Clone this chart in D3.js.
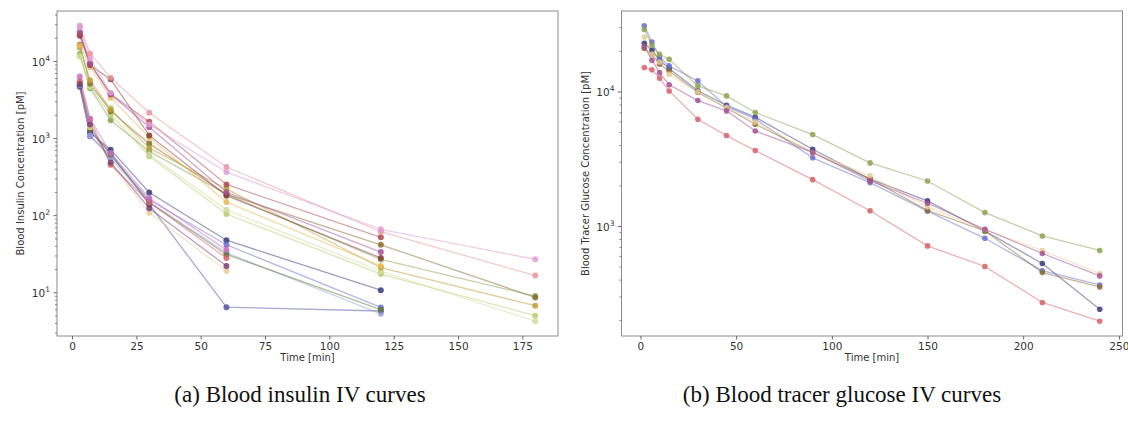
<!DOCTYPE html>
<html><head><meta charset="utf-8">
<script src="https://cdn.jsdelivr.net/npm/d3@7"></script>
<style>
body{margin:0;background:#fff;}
svg{display:block;}
</style></head>
<body>
<svg id="chart" width="1128" height="421"></svg>
<script>
// tab20b palette
const palette = ["#393b79","#5254a3","#6b6ecf","#9c9ede","#637939","#8ca252","#b5cf6b","#cedb9c",
  "#8c6d31","#bd9e39","#e7ba52","#e7cb94","#843c39","#ad494a","#d6616b","#e7969c",
  "#7b4173","#a55194","#ce6dbd","#de9ed6"];

// ---- (a) Blood insulin ----
const insulinTimes = [3, 7, 15, 30, 60, 120, 180];
const insulinSeries = [
  [4720, 1190, 719, 200, 48, 10.8, null],      // 0
  [4900, 1250, 650, 140, 6.5, 5.8, null],      // 1
  [4800, 1070, 600, 160, 41.9, 6.45, null],    // 2
  [5000, 1100, 560, 150, 33, 5.33, null],      // 3
  [5200, 1310, 620, 148, 31.4, 6.02, null],    // 4
  [12500, 4490, 1730, 683, 190, 27, 9.06],     // 5
  [12000, 4600, 2060, 588, 105, 17.5, 5.03],   // 6
  [11600, 4800, 2510, 620, 119, 19, 4.27],     // 7
  [16500, 5160, 2270, 861, 190, 41.9, 8.7],    // 8
  [15200, 5700, 2390, 757, 223, 21.2, 6.79],   // 9
  [16000, 8510, 3400, 1040, 150, 22.3, null],  // 10
  [5500, 1400, 470, 109, 19.2, null, null],    // 11
  [21600, 9000, 5870, 1100, 182, 28.3, null],  // 12
  [23000, 9400, 3750, 1650, 254, 52.3, null],  // 13
  [5580, 1770, 458, 148, 28.3, null, null],    // 14
  [29100, 12700, 6180, 2160, 428, 61.9, 16.7], // 15
  [5060, 1520, 491, 125, 22.3, null, null],    // 16
  [24300, 9420, 3750, 1400, 202, 33.7, null],  // 17
  [6370, 1810, 651, 169, 36, null, null],      // 18
  [27700, 10900, 3940, 1520, 368, 66.5, 27.2]  // 19
];
const insulinColors = palette;

// ---- (b) Blood tracer glucose ----
const glucoseTimes = [2, 6, 10, 15, 30, 45, 60, 90, 120, 150, 180, 210, 240];
const glucoseSeries = [
  [23000, 20500, 17200, 14900, 10200, 7960, 6490, 3750, 2250, 1550, 927, 531, 243],  // navy
  [31000, 23500, 18000, 15600, 12070, 7800, 6300, 3240, 2120, 1300, 818, 470, 368],  // blue
  [29100, 22300, 19060, 17500, 11080, 9340, 7030, 4820, 2970, 2180, 1270, 851, 664], // green
  [21000, 19000, 16060, 14300, 9900, 7600, 5750, 3550, 2250, 1320, 927, 455, 356],   // brown
  [25600, 19060, 16700, 13500, 10000, 7660, 5990, 3550, 2380, 1400, 950, 664, 448],  // tan
  [15200, 14600, 12640, 10170, 6270, 4740, 3670, 2230, 1310, 718, 505, 273, 198],    // red
  [21700, 17200, 13900, 11300, 8630, 7230, 5130, 3550, 2180, 1490, 955, 631, 430]    // purple
];
const glucoseColors = ["#393b79","#6b6ecf","#8ca252","#8c6d31","#e7cb94","#d6616b","#a55194"];

const xTicksA = [0, 25, 50, 75, 100, 125, 150, 175];
const xTicksB = [0, 50, 100, 150, 200, 250];

const svg = d3.select("#chart");
const FONT = "DejaVu Sans, sans-serif";

function panel(opts) {
  const {left, right, top, bottom, times, series, colors, xTicks, yLabel, caption, capX, r} = opts;
  const tmin = d3.min(times), tmax = d3.max(times);
  const tpad = (tmax - tmin) * 0.05;
  const x = d3.scaleLinear().domain([tmin - tpad, tmax + tpad]).range([left, right]);
  const vals = series.flat().filter(v => v != null);
  const lmin = Math.log10(d3.min(vals)), lmax = Math.log10(d3.max(vals));
  const lpad = (lmax - lmin) * 0.05;
  const y = d3.scaleLog().domain([Math.pow(10, lmin - lpad), Math.pow(10, lmax + lpad)]).range([bottom, top]);

  const g = svg.append("g");
  // lines
  const line = d3.line().defined(d => d[1] != null).x(d => x(d[0])).y(d => y(d[1]));
  series.forEach((s, i) => {
    const pts = times.map((t, j) => [t, s[j]]);
    g.append("path").attr("d", line(pts)).attr("fill", "none")
      .attr("stroke", colors[i]).attr("stroke-width", 1.3).attr("stroke-opacity", 0.5);
  });
  series.forEach((s, i) => {
    const pts = times.map((t, j) => [t, s[j]]).filter(d => d[1] != null);
    g.selectAll(null).data(pts).enter().append("circle")
      .attr("cx", d => x(d[0])).attr("cy", d => y(d[1])).attr("r", r)
      .attr("fill", colors[i]).attr("fill-opacity", 0.85);
  });
  // frame
  g.append("rect").attr("x", left).attr("y", top).attr("width", right - left).attr("height", bottom - top)
    .attr("fill", "none").attr("stroke", "#8a8a8a").attr("stroke-width", 1);

  // x axis
  const xa = g.append("g").attr("transform", `translate(0,${bottom})`)
    .call(d3.axisBottom(x).tickValues(xTicks).tickSize(3.5).tickPadding(3).tickFormat(d3.format("d")));
  xa.select(".domain").remove();
  xa.selectAll("line").attr("stroke", "#666");
  xa.selectAll("text").attr("font-family", FONT).attr("font-size", 10.5).attr("fill", "#333");

  // y axis (log) major + minor
  const [d0, d1] = y.domain();
  const majors = [], minors = [];
  for (let e = Math.floor(Math.log10(d0)); e <= Math.ceil(Math.log10(d1)); e++) {
    for (let m = 1; m <= 9; m++) {
      const v = m * Math.pow(10, e);
      if (v < d0 || v > d1) continue;
      (m === 1 ? majors : minors).push(v);
    }
  }
  const ya = g.append("g");
  ya.selectAll(".minor").data(minors).enter().append("line")
    .attr("x1", left).attr("x2", left - 2).attr("y1", d => y(d)).attr("y2", d => y(d))
    .attr("stroke", "#666").attr("stroke-width", 0.8);
  ya.selectAll(".major").data(majors).enter().append("line")
    .attr("x1", left).attr("x2", left - 3.5).attr("y1", d => y(d)).attr("y2", d => y(d))
    .attr("stroke", "#666").attr("stroke-width", 1);
  const tl = ya.selectAll(".lab").data(majors).enter().append("text")
    .attr("x", left - 7).attr("y", d => y(d) + 4).attr("text-anchor", "end")
    .attr("font-family", FONT).attr("font-size", 10.5).attr("fill", "#333");
  tl.append("tspan").text("10");
  tl.append("tspan").attr("dy", -5).attr("font-size", 7.5).text(d => Math.round(Math.log10(d)));

  // labels
  g.append("text").attr("x", (left + right) / 2).attr("y", bottom + 25).attr("text-anchor", "middle")
    .attr("font-family", FONT).attr("font-size", 10).attr("fill", "#333").text("Time [min]");
  g.append("text").attr("transform", `translate(${opts.yLabelX},${(top + bottom) / 2}) rotate(-90)`)
    .attr("text-anchor", "middle").attr("font-family", FONT).attr("font-size", 10).attr("fill", "#333")
    .text(yLabel);
  g.append("text").attr("x", capX).attr("y", 402).attr("text-anchor", "middle")
    .attr("font-family", "Liberation Serif, serif").attr("font-size", 23).attr("fill", "#111")
    .text(caption);
}

panel({left: 57, right: 558, top: 11, bottom: 336, times: insulinTimes, series: insulinSeries,
  colors: insulinColors, xTicks: xTicksA, yLabel: "Blood Insulin Concentration [pM]", yLabelX: 24,
  caption: "(a) Blood insulin IV curves", capX: 300, r: 3});
panel({left: 621.5, right: 1122.5, top: 11, bottom: 336, times: glucoseTimes, series: glucoseSeries,
  colors: glucoseColors, xTicks: xTicksB, yLabel: "Blood Tracer Glucose Concentration [pM]", yLabelX: 589,
  caption: "(b) Blood tracer glucose IV curves", capX: 842, r: 2.8});
</script>
</body></html>
